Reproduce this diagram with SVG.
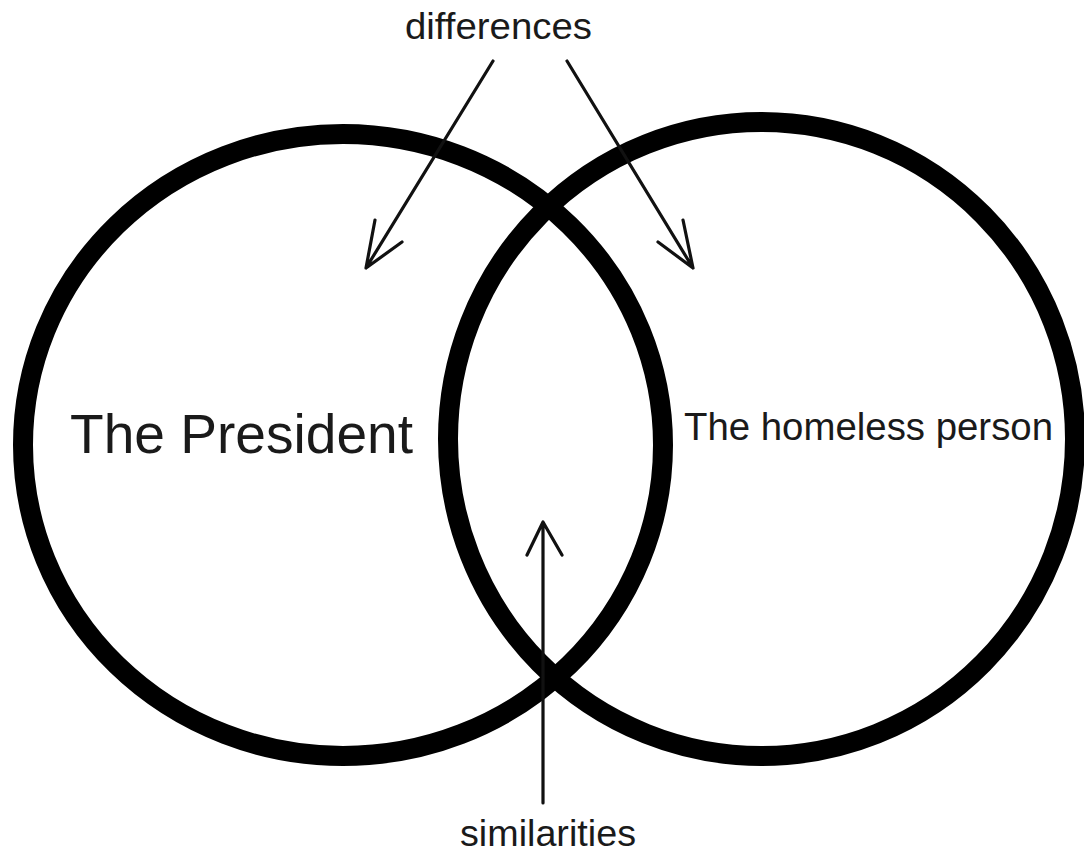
<svg xmlns="http://www.w3.org/2000/svg" width="1084" height="852" viewBox="0 0 1084 852">
<style>
.ring{fill:none;stroke:#000;stroke-width:20}
.conn{fill:none;stroke:#111;stroke-width:3.2;stroke-linecap:round;stroke-linejoin:round}
.lbl{font-family:"Liberation Sans",Arial,sans-serif;fill:#1a1a1a}
</style>
<rect width="1084" height="852" fill="#fff"/>
<g id="president">
<ellipse class="ring" cx="343" cy="445" rx="320" ry="311"/>
<text class="lbl" x="70" y="453" font-size="55" textLength="343" lengthAdjust="spacingAndGlyphs">The President</text>
</g>
<g id="homeless">
<ellipse class="ring" cx="761.5" cy="439" rx="313.5" ry="317"/>
<text class="lbl" x="684" y="440" font-size="38" textLength="369" lengthAdjust="spacingAndGlyphs">The homeless person</text>
</g>
<g id="differences">
<text class="lbl" x="405" y="39" font-size="37" textLength="187" lengthAdjust="spacingAndGlyphs">differences</text>
</g>
<g id="similarities">
<text class="lbl" x="460" y="846" font-size="37" textLength="176" lengthAdjust="spacingAndGlyphs">similarities</text>
</g>
<g id="connectors">
<path class="conn" d="M493,61 L366,268 M375,220 L366,268 L402,242"/>
<path class="conn" d="M567,61 L693,268 M683,220 L693,268 L658,242"/>
<path class="conn" d="M543,803 L543,522 M527,555 L543,522 L562,555"/>
</g>
</svg>
